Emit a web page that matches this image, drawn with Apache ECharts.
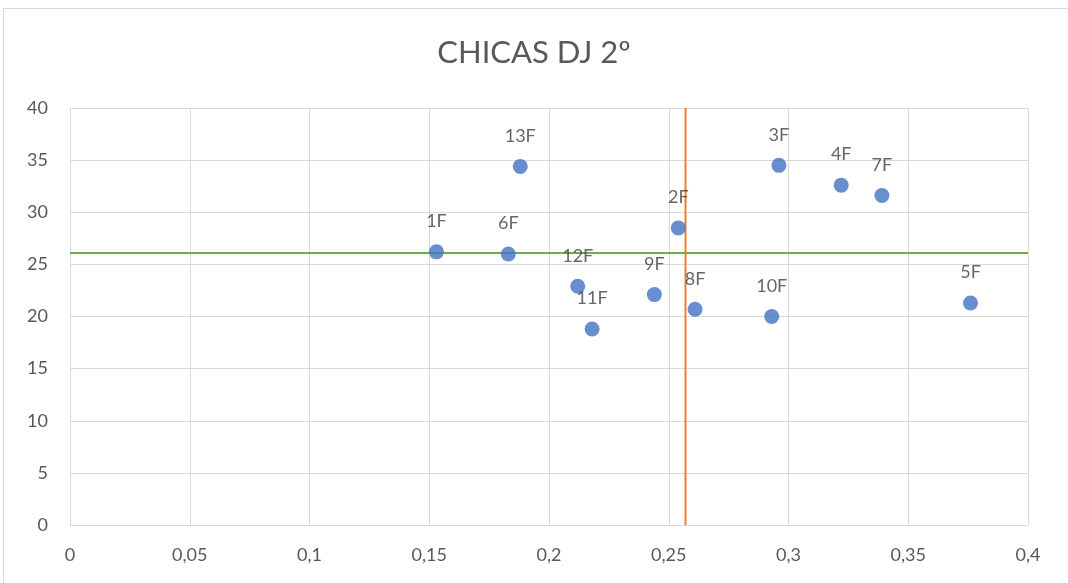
<!DOCTYPE html>
<html><head><meta charset="utf-8">
<script src="https://cdn.jsdelivr.net/npm/echarts@6/dist/echarts.min.js"></script>
<style>html,body{margin:0;padding:0;background:#fff}#c{width:1068px;height:583px}</style>
</head><body><div id="c"></div>
<script>
const names = ['1F','2F','3F','4F','5F','6F','7F','8F','9F','10F','11F','12F','13F'];
const xVals = [0.153,0.254,0.296,0.322,0.376,0.183,0.339,0.261,0.244,0.293,0.218,0.212,0.188];
const yVals = [26.2,28.5,34.5,32.6,21.3,26.0,31.6,20.7,22.1,20.0,18.8,22.9,34.4];
const vLineX = 0.257;
const hLineY = 26.1;
const xTicks = ['0','0,05','0,1','0,15','0,2','0,25','0,3','0,35','0,4'];

const font = 'Lato, "Open Sans", sans-serif';
const chart = echarts.init(document.getElementById('c'));
chart.setOption({
  backgroundColor: '#fff',
  animation: false,
  graphic: [{type:'rect', shape:{x:3.5,y:8.5,width:1080,height:600}, style:{fill:'none', stroke:'#d9d9d9', lineWidth:1}, silent:true}],
  title: {text:'CHICAS DJ 2º', left:'center', top:32, textStyle:{fontFamily:font, fontSize:31, fontWeight:'normal', color:'#595959'}},
  grid: {left:70, right:40, top:108, bottom:58},
  xAxis: {type:'value', min:0, max:0.4, interval:0.05,
    axisLine:{show:true, lineStyle:{color:'#d9d9d9'}}, axisTick:{show:false},
    splitLine:{show:true, lineStyle:{color:'#d9d9d9'}},
    axisLabel:{margin:21, fontFamily:font, fontSize:18, color:'#595959',
      formatter:(v)=>xTicks[Math.round(v/0.05)]}},
  yAxis: {type:'value', min:0, max:40, interval:5,
    axisLine:{show:false}, axisTick:{show:false},
    splitLine:{show:true, lineStyle:{color:'#d9d9d9'}},
    axisLabel:{margin:22, fontFamily:font, fontSize:18, color:'#595959'}},
  series: [
    {type:'line', data:[[vLineX,0],[vLineX,40]], symbol:'none', lineStyle:{color:'#ED7D31', width:2}, silent:true, z:1},
    {type:'line', data:[[0,hLineY],[0.4,hLineY]], symbol:'none', lineStyle:{color:'#70AD47', width:2}, silent:true, z:1},
    {type:'scatter', symbolSize:15, z:3,
      itemStyle:{color:'#4472C4'},
      data: xVals.map((x,i)=>({value:[x,yVals[i]], name:names[i]})),
      label:{show:true, position:'top', distance:14, formatter:'{b}', fontFamily:font, fontSize:18, color:'#404040'}}
  ]
});
</script></body></html>
